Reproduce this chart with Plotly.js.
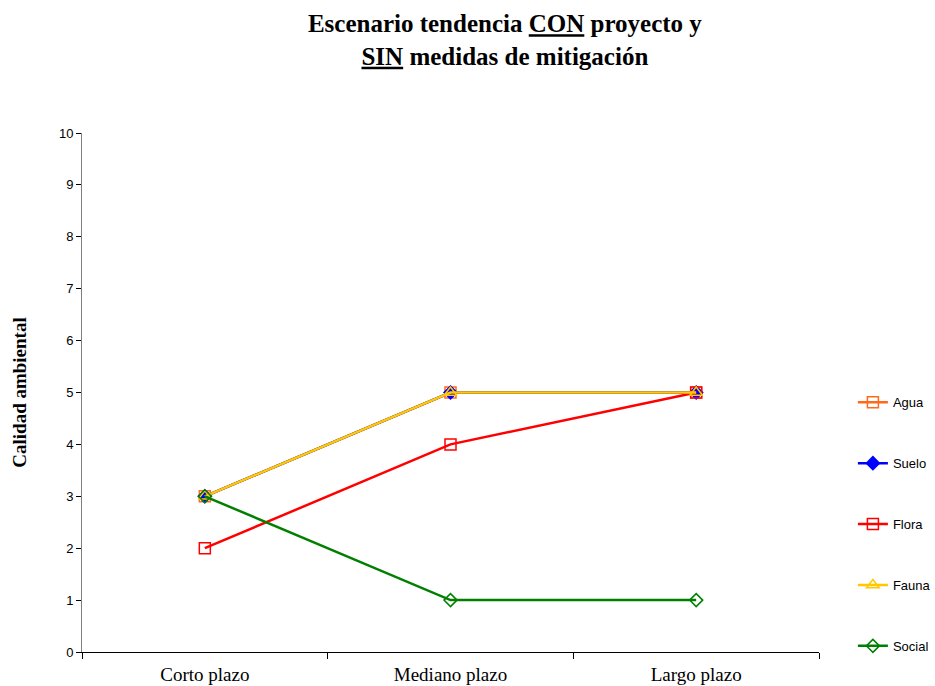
<!DOCTYPE html>
<html><head><meta charset="utf-8">
<script src="https://cdn.plot.ly/plotly-3.0.1.min.js"></script>
<style>body{margin:0;background:#fff}#c{width:935px;height:686px}</style>
</head><body><div id="c"></div>
<script>
const categories = ["Corto plazo", "Mediano plazo", "Largo plazo"];
const agua = [3, 5, 5];
const suelo = [3, 5, 5];
const flora = [2, 4, 5];
const fauna = [3, 5, 5];
const social = [3, 1, 1];
const seriesNames = ["Agua", "Suelo", "Flora", "Fauna", "Social"];

const styles = [
  {color: "#ff6a1a", symbol: "square-open", size: 11},
  {color: "#0000ff", symbol: "diamond", size: 10},
  {color: "#ff0000", symbol: "square-open", size: 11},
  {color: "#ffc800", symbol: "triangle-up-open", size: 11},
  {color: "#008000", symbol: "diamond-open", size: 10}
];
const values = [agua, suelo, flora, fauna, social];
const traces = values.map((v, i) => ({
  type: "scatter", mode: "lines+markers",
  x: categories, y: v, name: seriesNames[i],
  legendgroup: "g" + i,
  line: {color: styles[i].color, width: 2.5},
  marker: {color: styles[i].color, symbol: styles[i].symbol, size: styles[i].size, line: {color: styles[i].color, width: 1.5}}
}));

const layout = {
  width: 935, height: 686,
  margin: {l: 82, r: 116, t: 133, b: 34, autoexpand: false},
  paper_bgcolor: "#fff", plot_bgcolor: "#fff",
  title: {
    text: "<b>Escenario tendencia <u>CON</u> proyecto y<br><u>SIN</u> medidas de mitigación</b>",
    font: {family: "Liberation Serif, Times New Roman, serif", size: 25, color: "#000"},
    x: 0.54, xanchor: "center", y: 0.953, yanchor: "middle"
  },
  xaxis: {
    type: "category", tickson: "boundaries", range: [-0.5, 2.5],
    showline: true, linecolor: "#000", linewidth: 1,
    ticks: "outside", ticklen: 6, tickcolor: "#000",
    showgrid: false, zeroline: false, ticklabelstandoff: 5,
    tickfont: {family: "Liberation Serif, Times New Roman, serif", size: 19, color: "#000"}
  },
  yaxis: {
    range: [0, 10], dtick: 1, tick0: 0,
    showline: true, linecolor: "#808080", linewidth: 1,
    ticks: "outside", ticklen: 5, tickcolor: "#000",
    showgrid: false, zeroline: false,
    tickfont: {family: "Liberation Sans, Arial, sans-serif", size: 13, color: "#000"},
    title: {text: "<b>Calidad ambiental</b>", font: {family: "Liberation Serif, Times New Roman, serif", size: 19, color: "#000"}, standoff: 27}
  },
  legend: {
    x: 1.046, xanchor: "left", y: 0.51, yanchor: "top",
    traceorder: "grouped", tracegroupgap: 41,
    font: {family: "Liberation Sans, Arial, sans-serif", size: 13, color: "#000"},
    bgcolor: "rgba(0,0,0,0)", borderwidth: 0
  },
  showlegend: true
};
Plotly.newPlot("c", traces, layout, {displayModeBar: false});
</script>
</body></html>
